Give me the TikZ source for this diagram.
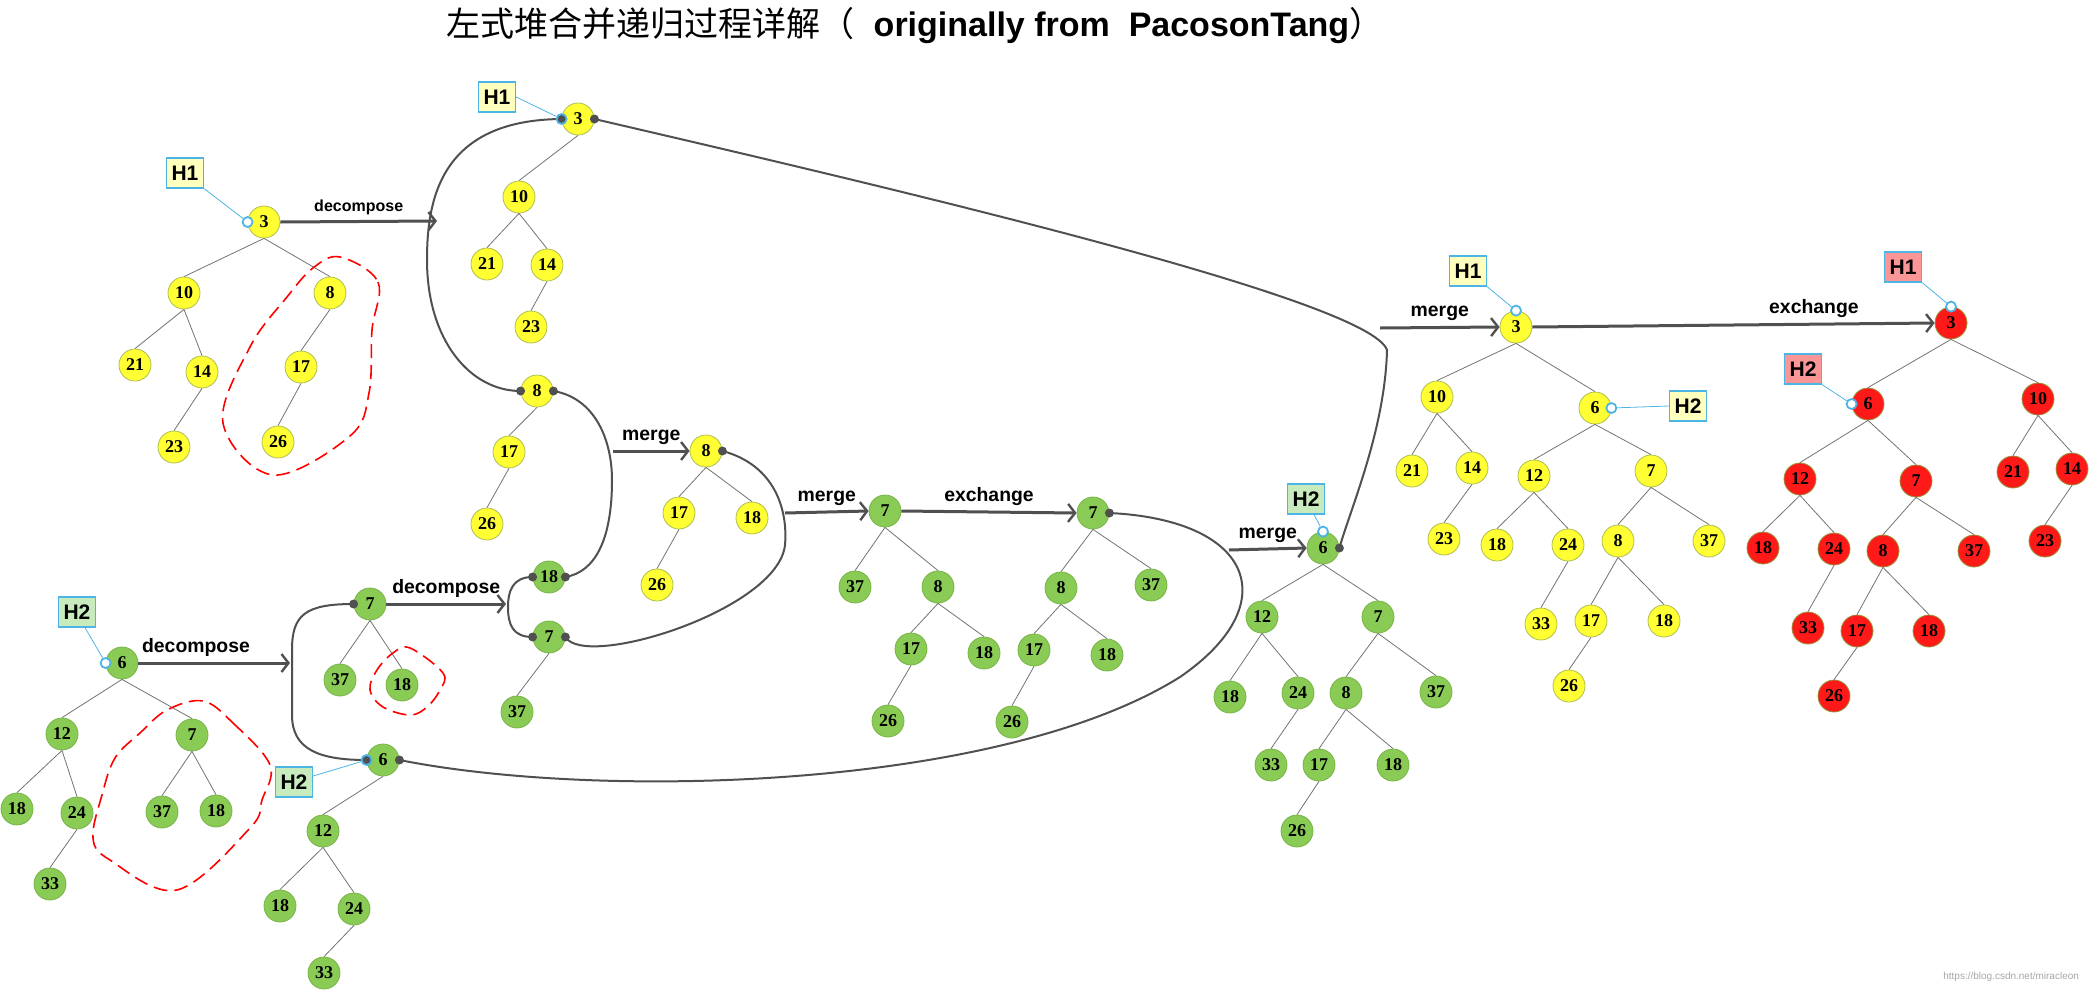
\documentclass[tikz,border=0pt]{standalone}
\usepackage{fontspec}
\newfontfamily\cjkfont{Noto Sans CJK SC}
\newfontfamily\lblfont{Liberation Sans}
\newfontfamily\numfont{Liberation Serif}
\usetikzlibrary{
  arrows.meta, % For arrow tips
  positioning
}

\definecolor{nyel}{RGB}{255,255,51}
\definecolor{nyelb}{RGB}{175,190,80}
\definecolor{ngrn}{RGB}{137,203,85}
\definecolor{ngrnb}{RGB}{120,180,70}
\definecolor{nred}{RGB}{255,25,25}
\definecolor{nredb}{RGB}{150,150,60}
\definecolor{dotc}{RGB}{80,80,80}
\definecolor{ringc}{RGB}{77,180,230}
\definecolor{hyel}{RGB}{255,255,190}
\definecolor{hgrn}{RGB}{200,235,190}
\definecolor{hred}{RGB}{250,150,150}

\begin{document}
\begin{tikzpicture}[
      x=0.5pt, y=-0.5pt, % one unit = one pixel of the sketch
      tn/.style={circle, minimum size=16pt, inner sep=0pt, line width=0.4pt,
        font=\numfont\bfseries\fontsize{9}{9}\selectfont},
      yel/.style={tn, fill=nyel, draw=nyelb},
      grn/.style={tn, fill=ngrn, draw=ngrnb},
      rd/.style={tn, fill=nred, draw=nredb},
      edge/.style={line width=0.4pt, draw=black!55},
      conn/.style={line width=1pt, draw=dotc},
      arr/.style={line width=1.5pt, draw=dotc,
        -{Straight Barb[length=3.5pt,width=9pt,line width=1.2pt]}},
      lbl/.style={font=\lblfont\bfseries\fontsize{9.7}{9.7}\selectfont, inner sep=0pt, above=2.5pt},
      hbox/.style={draw=ringc, fill=#1, line width=0.6pt, minimum width=18.5pt,
        minimum height=15pt, inner sep=0pt, font=\lblfont\bfseries\fontsize{10.5}{10.5}\selectfont},
      ring/.style={circle, draw=ringc, fill=white, line width=0.9pt, minimum size=5pt, inner sep=0pt},
      dot/.style={circle, fill=dotc, minimum size=4.5pt, inner sep=0pt},
      ptr/.style={draw=ringc, line width=0.4pt},
      blob/.style={red, line width=0.8pt, dash pattern=on 7pt off 3.5pt},
    ]

    \useasboundingbox (0,0) rectangle (2090,991);

    % Titel
    \node (title) at (915,26) {\fontsize{17}{17}\selectfont{\cjkfont 左式堆合并递归过程详解（}{\lblfont\bfseries\ \ originally from\ \ PacosonTang}{\cjkfont ）}};

    % H1 am Anfang
    \foreach \n/\x/\y/\t in {a3/264/222/3, a10/184/293/10, a8/330/293/8, a21/135/365/21,
        a14/202/372/14, a23/174/447/23, a17/301/367/17, a26/278/442/26}
      \node[yel] (\n) at (\x,\y) {\t};
    % H1 nach decompose
    \foreach \n/\x/\y/\t in {b3/578/119/3, b10/519/197/10, b21/487/264/21, b14/547/265/14,
        b23/531/327/23, c8/537/391/8, c17/509/452/17, c26/487/524/26,
        d8/706/451/8, d17/679/513/17, d18/752/518/18, d26/657/585/26}
      \node[yel] (\n) at (\x,\y) {\t};
    % H2 am Anfang und zerlegt
    \foreach \n/\x/\y/\t in {e6/122/663/6, e12/62/734/12, e7/192/735/7, e18/17/809/18,
        e24/77/813/24, e33/50/884/33, e37/162/812/37, e18b/216/811/18,
        f7/370/604/7, f37/340/680/37, f18/402/685/18,
        g6/383/760/6, g12/323/831/12, g18/280/906/18, g24/354/909/24, g33/324/973/33,
        h18/549/577/18, h7/549/637/7, h37/517/712/37}
      \node[grn] (\n) at (\x,\y) {\t};
    % merge und exchange (gruen)
    \foreach \n/\x/\y/\t in {i7/885/511/7, i37/855/587/37, i8/938/587/8, i17/911/649/17,
        i18/984/653/18, i26/888/721/26,
        j7/1093/513/7, j8/1061/588/8, j37/1151/585/37, j17/1034/650/17,
        j18/1107/655/18, j26/1012/722/26,
        k6/1323/548/6, k12/1262/617/12, k7/1378/617/7, k18/1230/697/18, k24/1298/693/24,
        k8/1346/693/8, k37/1436/692/37, k33/1271/765/33, k17/1319/765/17,
        k18b/1393/765/18, k26/1297/831/26}
      \node[grn] (\n) at (\x,\y) {\t};
    % Ergebnis vor exchange
    \foreach \n/\x/\y/\t in {l3/1516/327/3, l10/1437/397/10, l6/1595/408/6, l21/1412/471/21,
        l14/1472/468/14, l23/1444/539/23, l12/1534/476/12, l7/1651/471/7,
        l18/1497/545/18, l24/1568/545/24, l8/1618/541/8, l37/1709/541/37,
        l33/1541/624/33, l17/1591/621/17, l18b/1664/621/18, l26/1569/686/26}
      \node[yel] (\n) at (\x,\y) {\t};
    % Endergebnis
    \foreach \n/\x/\y/\t in {m3/1951/323/3, m6/1868/404/6, m10/2038/399/10, m12/1800/479/12,
        m7/1916/481/7, m21/2013/472/21, m14/2072/469/14, m18/1763/548/18,
        m24/1834/549/24, m8/1883/551/8, m37/1974/551/37, m23/2045/541/23,
        m33/1808/628/33, m17/1857/631/17, m18b/1929/631/18, m26/1834/696/26}
      \node[rd] (\n) at (\x,\y) {\t};

    % Kanten der Baeume
    \foreach \p/\c in {a3/a10, a3/a8, a10/a21, a10/a14, a14/a23, a8/a17, a17/a26,
        b3/b10, b10/b21, b10/b14, b14/b23, c8/c17, c17/c26, d8/d17, d8/d18, d17/d26,
        e6/e12, e6/e7, e12/e18, e12/e24, e24/e33, e7/e37, e7/e18b,
        f7/f37, f7/f18, g6/g12, g12/g18, g12/g24, g24/g33, h7/h37,
        i7/i37, i7/i8, i8/i17, i8/i18, i17/i26,
        j7/j8, j7/j37, j8/j17, j8/j18, j17/j26,
        k6/k12, k6/k7, k12/k18, k12/k24, k24/k33, k7/k8, k7/k37, k8/k17, k8/k18b, k17/k26,
        l3/l10, l3/l6, l10/l21, l10/l14, l14/l23, l6/l12, l6/l7, l12/l18, l12/l24,
        l24/l33, l7/l8, l7/l37, l8/l17, l8/l18b, l17/l26,
        m3/m10, m3/m6, m10/m21, m10/m14, m14/m23, m6/m12, m6/m7, m12/m18, m12/m24,
        m24/m33, m7/m8, m7/m37, m8/m17, m8/m18b, m17/m26}
      \draw[edge] (\p.south) -- (\c.north);

    % Rekursionsbogen
    \draw[conn] (b3.west) .. controls (440,120) and (427,200) .. (427,260)
      .. controls (427,340) and (470,391) .. (c8.west);
    \draw[conn] (c8.east) .. controls (595,398) and (612,440) .. (612,480)
      .. controls (612,540) and (595,572) .. (h18.east);
    \draw[conn] (h18.west) .. controls (512,577) and (508,592) .. (508,607)
      .. controls (508,625) and (513,637) .. (h7.west);
    \draw[conn] (d8.east) .. controls (775,465) and (788,510) .. (785,545)
      .. controls (778,610) and (585,670) .. (h7.east);
    \draw[conn] (f7.west) .. controls (305,604) and (292,615) .. (292,650) -- (292,715)
      .. controls (292,750) and (320,760) .. (g6.west);
    \draw[conn] (g6.east) .. controls (600,800) and (1000,790) .. (1180,677)
      .. controls (1285,605) and (1255,520) .. (j7.east);
    \draw[conn] (b3.east) .. controls (900,190) and (1370,300) .. (1387,350)
      .. controls (1385,430) and (1350,510) .. (k6.east);

    % Pfeile
    \coordinate (d1e) at (437,221);
    \coordinate (d2e) at (290,663);
    \coordinate (d3e) at (506,604);
    \coordinate (m1s) at (613,451);
    \coordinate (m2s) at (785,513);
    \coordinate (m3s) at (1229,550);
    \coordinate (m4s) at (1380,328);
    \draw[arr] (a3.east) -- (d1e) node[lbl, midway, font=\lblfont\bfseries\fontsize{8}{8}\selectfont] {decompose};
    \draw[arr] (e6.east) -- (d2e) node[lbl, pos=0.38] {decompose};
    \draw[arr] (f7.east) -- (d3e) node[lbl, midway] {decompose};
    \draw[arr] (m1s) -- (d8.west) node[lbl, midway] {merge};
    \draw[arr] (m2s) -- (i7.west) node[lbl, midway] {merge};
    \draw[arr] (i7.east) -- (j7.west) node[lbl, midway] {exchange};
    \draw[arr] (m3s) -- (k6.west) node[lbl, midway] {merge};
    \draw[arr] (m4s) -- (l3.west) node[lbl, midway] {merge};
    \draw[arr] (l3.east) -- (m3.west) node[lbl, pos=0.7] {exchange};

    % Punkte an den Wurzeln
    \foreach \a in {b3.east, c8.west, c8.east, d8.east, h18.west, h18.east, h7.west,
        h7.east, f7.west, g6.east, j7.east, k6.east}
      \node[dot] at (\a) {};

    % Zeiger H1 / H2
    \node[ring] (ra) at (a3.west) {};
    \node[ring, fill=dotc] (rb) at (b3.west) {};
    \node[ring] (re) at (e6.west) {};
    \node[ring, fill=dotc] (rg) at (g6.west) {};
    \node[ring] (rk) at (k6.north) {};
    \node[ring] (rl) at (l3.north) {};
    \node[ring] (rl6) at (l6.east) {};
    \node[ring] (rm) at (m3.north) {};
    \node[ring] (rm6) at (m6.west) {};

    \node[hbox=hyel] (ha) at (185,173) {H1};
    \node[hbox=hyel] (hb) at (497,97) {H1};
    \node[hbox=hgrn] (he) at (77,612) {H2};
    \node[hbox=hgrn] (hg) at (294,782) {H2};
    \node[hbox=hgrn] (hk) at (1306,499) {H2};
    \node[hbox=hyel] (hl) at (1468,271) {H1};
    \node[hbox=hyel] (hl6) at (1688,406) {H2};
    \node[hbox=hred] (hm) at (1903,267) {H1};
    \node[hbox=hred] (hm6) at (1803,369) {H2};

    \draw[ptr] (ha.south east) -- (ra);
    \draw[ptr] (hb.east) -- (rb);
    \draw[ptr] ([xshift=4pt]he.south) -- (re);
    \draw[ptr] ([yshift=3pt]hg.east) -- (rg);
    \draw[ptr] ([xshift=4pt]hk.south) -- (rk);
    \draw[ptr] (hl.south east) -- (rl);
    \draw[ptr] (hl6.west) -- (rl6);
    \draw[ptr] (hm.south east) -- (rm);
    \draw[ptr] (hm6.south east) -- (rm6);

    % abgetrennte Teilbaeume
    \draw[blob] plot[smooth cycle, tension=0.6] coordinates {(340,257) (378,282) (372,330)
      (369,393) (350,436) (273,475) (223,423) (250,347) (287,297) (313,268)};
    \draw[blob] plot[smooth cycle, tension=0.6] coordinates {(203,701) (233,723) (270,765)
      (262,800) (250,828) (177,890) (110,860) (93,838) (102,795) (115,758) (140,733) (167,710)};
    \draw[blob] plot[smooth cycle, tension=0.6] coordinates {(410,648) (443,673) (440,690)
      (427,707) (410,715) (383,707) (370,690) (377,670) (393,653)};

    \node[font=\lblfont\fontsize{5}{5}\selectfont, text=black!35, anchor=east] (wm) at (2086,977) {https://blog.csdn.net/miracleon};

  \end{tikzpicture}
\end{document}
